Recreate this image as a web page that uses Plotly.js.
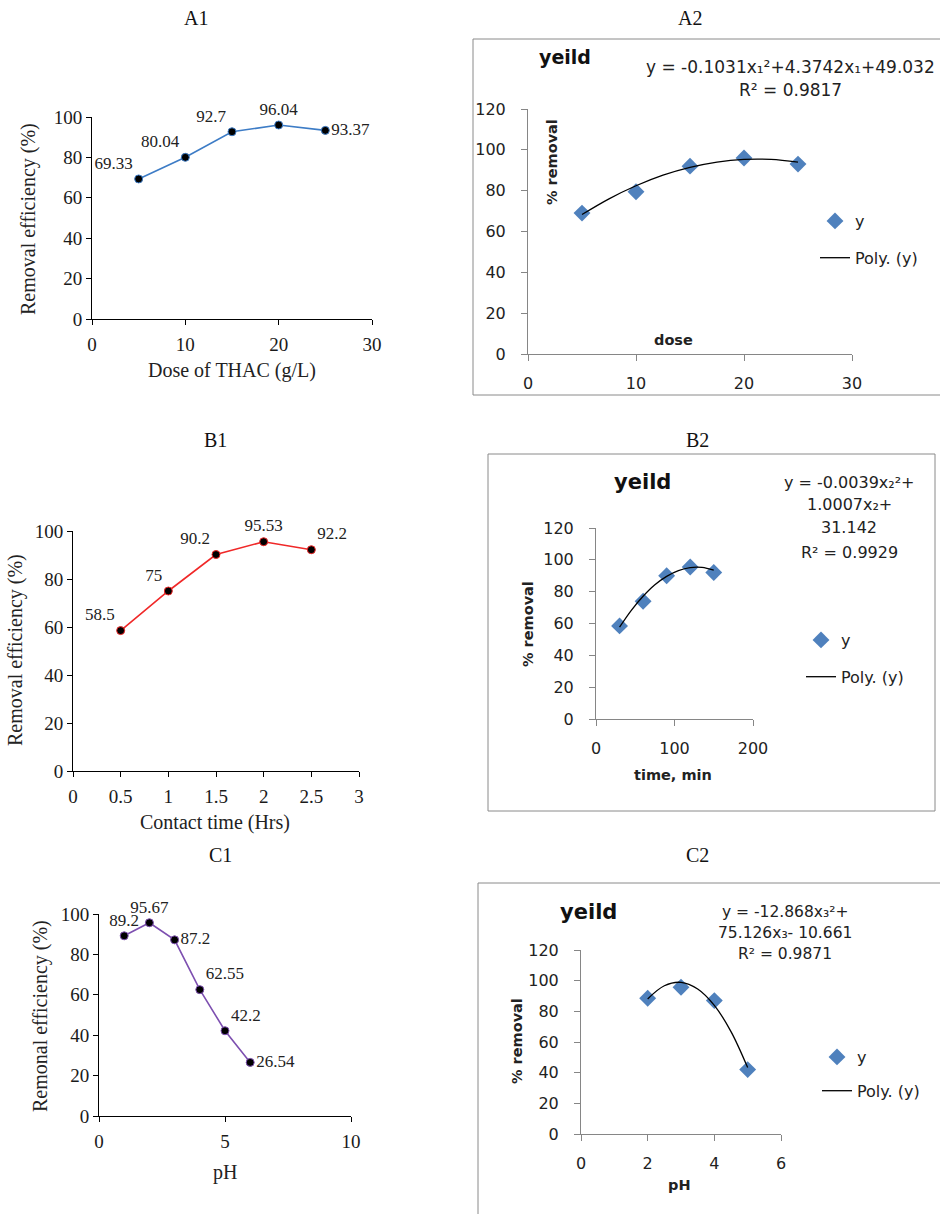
<!DOCTYPE html>
<html>
<head>
<meta charset="utf-8">
<script src="https://cdn.plot.ly/plotly-3.0.1.min.js"></script>
<style>html,body{margin:0;padding:0;background:#fff;}#chart{width:940px;height:1214px;}</style>
</head>
<body>
<div id="chart"></div>
<script>
// ---------- data ----------
const doseA1 = [5, 10, 15, 20, 25];
const removalA1 = [69.33, 80.04, 92.7, 96.04, 93.37];
const labelPosA1 = ['top left', 'top left', 'top left', 'top center', 'middle right'];

const timeB1 = [0.5, 1, 1.5, 2, 2.5];
const removalB1 = [58.5, 75, 90.2, 95.53, 92.2];
const labelPosB1 = ['top left', 'top left', 'top left', 'top center', 'top right'];

const pHC1 = [1, 2, 3, 4, 5, 6];
const removalC1 = [89.2, 95.67, 87.2, 62.55, 42.2, 26.54];
const labelPosC1 = ['top center', 'top center', 'middle right', 'top right', 'top right', 'middle right'];

const doseA2 = [5, 10, 15, 20, 25];
const removalA2 = [69, 79.5, 92, 96, 93];
const fitXA2 = [5, 7.5, 10, 12.5, 15, 17.5, 20, 22.5, 25];
const fitYA2 = [68.3, 76.0, 82.4, 87.6, 91.4, 94.0, 95.3, 95.3, 94.0];

const timeB2 = [30, 60, 90, 120, 150];
const removalB2 = [58.5, 74, 90, 95.5, 92];
const fitXB2 = [30, 45, 60, 75, 90, 105, 120, 135, 150];
const fitYB2 = [57.7, 68.3, 77.1, 84.3, 89.6, 93.2, 95.1, 95.2, 93.5];

const pHC2 = [2, 3, 4, 5];
const removalC2 = [88.5, 95.7, 87, 42];
const fitXC2 = [2, 2.5, 3, 3.5, 4, 4.5, 5];
const fitYC2 = [88.1, 96.7, 98.9, 94.6, 83.9, 66.8, 43.3];

const eqA2 = ['y = -0.1031x₁²+4.3742x₁+49.032', 'R² = 0.9817'];
const eqB2 = ['y = -0.0039x₂²+', '1.0007x₂+', '31.142', 'R² = 0.9929'];
const eqC2 = ['y = -12.868x₃²+', '75.126x₃- 10.661', 'R² = 0.9871'];

// ---------- helpers ----------
const W = 940, H = 1214;
const fx = p => p / W;
const fy = p => 1 - p / H;
const SERIF = 'Liberation Serif, Times New Roman, serif';
const SANS = 'DejaVu Sans, Verdana, sans-serif';

function leftSeries(x, y, pos, color, xa, ya) {
  return {
    x: x, y: y, xaxis: xa, yaxis: ya, type: 'scatter', mode: 'lines+markers+text',
    text: y.map(String), textposition: pos, cliponaxis: false,
    textfont: {family: SERIF, size: 17, color: '#222'},
    line: {color: color, width: 1.6},
    marker: {color: '#000', size: 8, line: {color: color, width: 1}},
    showlegend: false, hoverinfo: 'x+y'
  };
}
function rightSeries(x, y, fx_, fy_, xa, ya, lg) {
  return [
    {x: x, y: y, xaxis: xa, yaxis: ya, type: 'scatter', mode: 'markers', name: 'y',
     marker: {symbol: 'diamond', color: '#4f81bd', size: 13}, cliponaxis: false,
     legend: lg, legendgroup: lg + 'a'},
    {x: fx_, y: fy_, xaxis: xa, yaxis: ya, type: 'scatter', mode: 'lines', name: 'Poly. (y)',
     line: {color: '#000', width: 1.3, shape: 'spline'}, cliponaxis: false,
     legend: lg, legendgroup: lg + 'b'}
  ];
}

const data = [
  leftSeries(doseA1, removalA1, labelPosA1, '#3d7cc6', 'x', 'y'),
  ...rightSeries(doseA2, removalA2, fitXA2, fitYA2, 'x2', 'y2', 'legend'),
  leftSeries(timeB1, removalB1, labelPosB1, '#f02828', 'x3', 'y3'),
  ...rightSeries(timeB2, removalB2, fitXB2, fitYB2, 'x4', 'y4', 'legend2'),
  leftSeries(pHC1, removalC1, labelPosC1, '#7d4fb0', 'x5', 'y5'),
  ...rightSeries(pHC2, removalC2, fitXC2, fitYC2, 'x6', 'y6', 'legend3')
];

function lx(anchor, x0, x1, range, dtick, tickvals, ticktext) {
  const a = {anchor: anchor, domain: [fx(x0), fx(x1)], range: range, showline: true, linecolor: '#000',
    linewidth: 1, ticks: 'outside', ticklen: 5, tickcolor: '#000', showgrid: false, zeroline: false,
    ticklabelstandoff: 3,
    tickfont: {family: SERIF, size: 19, color: '#1a1a1a'}, fixedrange: true};
  if (tickvals) { a.tickmode = 'array'; a.tickvals = tickvals; a.ticktext = ticktext; }
  else { a.tickmode = 'linear'; a.tick0 = 0; a.dtick = dtick; }
  return a;
}
function ly(anchor, y0, y1, range, dtick) {
  return {anchor: anchor, domain: [fy(y0), fy(y1)], range: range, showline: true, linecolor: '#000',
    linewidth: 1, ticks: 'outside', ticklen: 5, tickcolor: '#000', showgrid: false, zeroline: false,
    tickmode: 'linear', tick0: 0, dtick: dtick,
    tickfont: {family: SERIF, size: 19, color: '#1a1a1a'}, fixedrange: true};
}
function rx(anchor, x0, x1, range, dtick, so) {
  return {anchor: anchor, domain: [fx(x0), fx(x1)], range: range, showline: true, linecolor: '#868686',
    linewidth: 1, ticks: 'outside', ticklen: 6, tickcolor: '#868686', showgrid: false, zeroline: false,
    tickmode: 'linear', tick0: 0, dtick: dtick, ticklabelstandoff: so,
    tickfont: {family: SANS, size: 16, color: '#222'}, fixedrange: true};
}
function ry(anchor, y0, y1, range, dtick, so) {
  return {anchor: anchor, domain: [fy(y0), fy(y1)], range: range, showline: true, linecolor: '#868686',
    linewidth: 1, ticks: 'outside', ticklen: 6, tickcolor: '#868686', showgrid: false, zeroline: false,
    tickmode: 'linear', tick0: 0, dtick: dtick, ticklabelstandoff: so,
    tickfont: {family: SANS, size: 16, color: '#222'}, fixedrange: true};
}

function txt(text, px, py, font, extra) {
  return Object.assign({text: text, xref: 'paper', yref: 'paper', x: fx(px), y: fy(py),
    xanchor: 'center', yanchor: 'middle', showarrow: false, font: font}, extra || {});
}
const panelFont = {family: SERIF, size: 20, color: '#111'};
const serifTitle = {family: SERIF, size: 20, color: '#222'};
const sansTitle = {family: SANS, size: 14.5, color: '#222'};
const eqFontA = {family: SANS, size: 17, color: '#222'};
const eqFontB = {family: SANS, size: 16, color: '#222'};
const eqFontC = {family: SANS, size: 15.5, color: '#222'};
const yeildFont = {family: SANS, size: 21, color: '#111'};

const annotations = [
  txt('A1', 196, 18, panelFont), txt('A2', 690, 18, panelFont),
  txt('B1', 215, 440, panelFont), txt('B2', 697, 440, panelFont),
  txt('C1', 220, 855, panelFont), txt('C2', 697, 855, panelFont),
  // left axis titles
  txt('Removal efficiency (%)', 28, 219, serifTitle, {textangle: -90}),
  txt('Dose of THAC (g/L)', 232, 370, serifTitle),
  txt('Removal efficiency (%)', 16, 650, serifTitle, {textangle: -90}),
  txt('Contact time (Hrs)', 215, 822, serifTitle),
  txt('Remonal efficiency (%)', 40, 1016, serifTitle, {textangle: -90}),
  txt('pH', 225, 1172, serifTitle),
  // right titles
  txt('<b>yeild</b>', 565, 57, {family: SANS, size: 19, color: '#111'}),
  txt('<b>yeild</b>', 642, 482, yeildFont),
  txt('<b>yeild</b>', 588, 912, yeildFont),
  txt('<b>% removal</b>', 552, 162, sansTitle, {textangle: -90}),
  txt('<b>dose</b>', 673, 340, sansTitle),
  txt('<b>% removal</b>', 528, 624, sansTitle, {textangle: -90}),
  txt('<b>time, min</b>', 673, 775, sansTitle),
  txt('<b>% removal</b>', 517, 1041, sansTitle, {textangle: -90}),
  txt('<b>pH</b>', 679, 1185, sansTitle),
  // equations
  txt(eqA2[0], 790, 67, eqFontA), txt(eqA2[1], 790, 90, eqFontA),
  txt(eqB2[0], 849, 482, eqFontB), txt(eqB2[1], 849, 504, eqFontB),
  txt(eqB2[2], 849, 527, eqFontB), txt(eqB2[3], 849, 552, eqFontB),
  txt(eqC2[0], 785, 912, eqFontC), txt(eqC2[1], 785, 933, eqFontC),
  txt(eqC2[2], 785, 954, eqFontC)
];

const boxLine = {color: '#8a8a8a', width: 1};
const shapes = [
  {type: 'rect', xref: 'paper', yref: 'paper', x0: fx(473), x1: fx(945), y0: fy(395), y1: fy(39), line: boxLine},
  {type: 'rect', xref: 'paper', yref: 'paper', x0: fx(488), x1: fx(935), y0: fy(811), y1: fy(454), line: boxLine},
  {type: 'rect', xref: 'paper', yref: 'paper', x0: fx(478), x1: fx(945), y0: fy(1220), y1: fy(883), line: boxLine}
];

function legendAt(px, py, gap) {
  return {x: fx(px), y: fy(py), xanchor: 'left', yanchor: 'top', bgcolor: 'rgba(0,0,0,0)',
    borderwidth: 0, font: {family: SANS, size: 16, color: '#222'}, traceorder: 'grouped',
    tracegroupgap: gap, itemclick: false, itemdoubleclick: false};
}

const layout = {
  width: W, height: H, margin: {l: 0, r: 0, t: 0, b: 0},
  paper_bgcolor: '#fff', plot_bgcolor: 'rgba(0,0,0,0)', hovermode: false,
  xaxis: lx('y', 92, 372, [0, 30], 10),
  yaxis: ly('x', 319, 117, [0, 100], 20),
  xaxis2: rx('y2', 528, 852, [0, 30], 10, 9),
  yaxis2: ry('x2', 354, 109, [0, 120], 20, 12),
  xaxis3: lx('y3', 73, 359, [0, 3], null, [0, 0.5, 1, 1.5, 2, 2.5, 3], ['0', '0.5', '1', '1.5', '2', '2.5', '3']),
  yaxis3: ly('x3', 771, 531, [0, 100], 20),
  xaxis4: rx('y4', 596, 753, [0, 200], 100, 9),
  yaxis4: ry('x4', 719, 528, [0, 120], 20, 12),
  xaxis5: lx('y5', 99, 351, [0, 10], 5),
  yaxis5: ly('x5', 1116, 914, [0, 100], 20),
  xaxis6: rx('y6', 581, 781, [0, 6], 2, 9),
  yaxis6: ry('x6', 1134, 950, [0, 120], 20, 12),
  legend: legendAt(815, 204, 13),
  legend2: legendAt(801, 623, 13),
  legend3: legendAt(817, 1040, 10),
  annotations: annotations,
  shapes: shapes
};

Plotly.newPlot('chart', data, layout, {staticPlot: true, displayModeBar: false});
</script>
</body>
</html>
